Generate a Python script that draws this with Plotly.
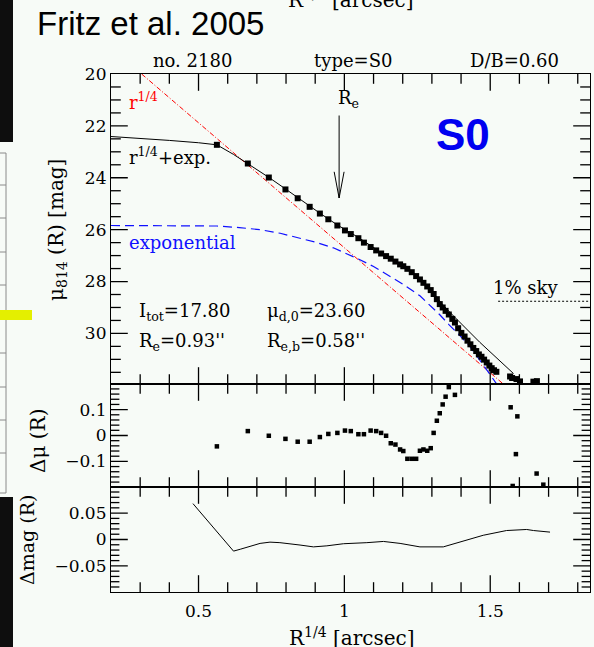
import plotly.graph_objects as go
from plotly.subplots import make_subplots

# ---------------- data ----------------
prof_x = [0.563, 0.669, 0.741, 0.798, 0.840, 0.881, 0.916, 0.945, 0.976, 1.002,
          1.022, 1.048, 1.067, 1.090, 1.109, 1.126, 1.143, 1.159, 1.175, 1.191,
          1.202, 1.216, 1.231, 1.246, 1.259, 1.271, 1.284, 1.296, 1.306, 1.317,
          1.327, 1.337, 1.347, 1.358, 1.370, 1.379, 1.390, 1.401, 1.412, 1.422,
          1.432, 1.442, 1.452, 1.461, 1.470, 1.479, 1.488, 1.497, 1.505, 1.513,
          1.521, 1.568, 1.575, 1.590, 1.602, 1.648, 1.660]
prof_mu = [22.73, 23.45, 23.99, 24.45, 24.79, 25.12, 25.38, 25.60, 25.84, 26.03,
           26.17, 26.33, 26.50, 26.67, 26.80, 26.92, 27.02, 27.12, 27.23, 27.34,
           27.41, 27.51, 27.64, 27.79, 27.92, 28.05, 28.19, 28.33, 28.48, 28.68,
           28.87, 29.00, 29.13, 29.27, 29.44, 29.58, 29.80, 29.98, 30.12, 30.28,
           30.42, 30.56, 30.68, 30.81, 30.90, 31.01, 31.12, 31.24, 31.34, 31.42,
           31.48, 31.66, 31.72, 31.76, 31.85, 31.86, 31.84]

fit_x = [0.200, 0.300, 0.400, 0.500, 0.563, 0.620, 0.669, 0.743, 0.798, 0.844,
         0.914, 0.976, 1.048, 1.128, 1.219, 1.259, 1.300, 1.330, 1.362, 1.464, 1.580]
fit_mu = [22.41, 22.48, 22.56, 22.65, 22.73, 23.10, 23.45, 24.00, 24.43, 24.80,
          25.35, 25.82, 26.30, 26.90, 27.50, 27.88, 28.35, 28.80, 29.19, 30.34, 31.55]

bulge_x = [0.305, 1.550]
bulge_mu = [20.0, 32.0]

disk_x = [0.200, 0.400, 0.563, 0.640, 0.711, 0.780, 0.848, 0.900, 0.962, 1.000,
          1.048, 1.100, 1.156, 1.200, 1.259, 1.300, 1.327, 1.360, 1.396, 1.430,
          1.453, 1.493, 1.525]
disk_mu = [25.84, 25.84, 25.86, 25.92, 26.00, 26.14, 26.32, 26.48, 26.70, 26.88,
           27.13, 27.42, 27.79, 28.10, 28.55, 28.98, 29.28, 29.68, 30.08, 30.50,
           30.85, 31.48, 32.00]

sky_x = [1.527, 1.840]
sky_mu = [28.76, 28.76]

arrow_x = [0.982, 0.982]
arrow_mu = [21.60, 24.78]
arrowhead_x = [0.965, 0.982, 0.999]
arrowhead_mu = [23.77, 24.78, 23.77]

res_x = [0.563, 0.669, 0.741, 0.798, 0.840, 0.881, 0.916, 0.945, 0.976, 1.002,
         1.022, 1.048, 1.067, 1.090, 1.109, 1.126, 1.143, 1.159, 1.175, 1.191,
         1.202, 1.216, 1.231, 1.246, 1.259, 1.271, 1.284, 1.296, 1.306, 1.317,
         1.327, 1.337, 1.347, 1.358, 1.379, 1.570, 1.593, 1.588, 1.659, 1.577, 1.682]
res_dmu = [-0.042, 0.017, -0.001, -0.013, -0.024, -0.024, -0.006, 0.006, 0.010, 0.019,
           0.017, 0.005, 0.005, 0.019, 0.017, 0.010, -0.001, -0.030, -0.035, -0.054,
           -0.060, -0.090, -0.090, -0.090, -0.059, -0.054, -0.059, -0.049, 0.010, 0.057,
           0.086, 0.120, 0.150, 0.187, 0.157, 0.109, 0.074, -0.072, -0.147, -0.195, -0.190]

dmag_x = [0.481, 0.620, 0.643, 0.711, 0.745, 0.779, 0.848, 0.894, 0.940, 0.997,
          1.077, 1.134, 1.191, 1.259, 1.339, 1.419, 1.476, 1.556, 1.625, 1.648, 1.705]
dmag_v = [0.068, -0.022, -0.0185, -0.0074, -0.005, -0.006, -0.0105, -0.014, -0.012, -0.008,
          -0.006, -0.0037, -0.0074, -0.014, -0.014, -0.002, 0.008, 0.017, 0.019, 0.017, 0.014]

# axis ranges and tick positions
x_range = [0.2, 1.842]
y1_range = [31.95, 20]
y2_range = [-0.199, 0.199]
y3_range = [-0.0995, 0.0995]
x_major = [0.5, 1.0, 1.5]
x_minor = [0.3, 0.4, 0.6, 0.7, 0.8, 0.9, 1.1, 1.2, 1.3, 1.4, 1.6, 1.7, 1.8]
y1_major = [22, 24, 26, 28, 30]
y1_minor = [20.5, 21, 21.5, 22.5, 23, 23.5, 24.5, 25, 25.5, 26.5, 27, 27.5,
            28.5, 29, 29.5, 30.5, 31, 31.5]
y2_major = [-0.1, 0.0, 0.1]
y2_minor = [-0.18, -0.16, -0.14, -0.12, -0.08, -0.06, -0.04, -0.02,
            0.02, 0.04, 0.06, 0.08, 0.12, 0.14, 0.16, 0.18]
y3_major = [-0.05, 0.0, 0.05]
y3_minor = [-0.09, -0.08, -0.07, -0.06, -0.04, -0.03, -0.02, -0.01,
            0.01, 0.02, 0.03, 0.04, 0.06, 0.07, 0.08, 0.09]

# ---------------- geometry helpers ----------------
W, H = 594, 647
L, R, T, B = 111, 590, 74, 592
PW, PH = R - L, B - T


def px(x):
    return (x - L) / PW


def py(y):
    return (B - y) / PH


BG = "#f7fbf7"
SERIF = "DejaVu Serif"

h1, h2, h3 = 384 - T, 487 - 384, B - 487
fig = make_subplots(rows=3, cols=1, shared_xaxes=True, vertical_spacing=0,
                    row_heights=[h1, h2, h3])

fig.add_trace(go.Scatter(x=bulge_x, y=bulge_mu, mode="lines",
                         line=dict(color="#ff0000", width=1, dash="5px,2px,1px,2px")), row=1, col=1)
fig.add_trace(go.Scatter(x=disk_x, y=disk_mu, mode="lines",
                         line=dict(color="#1010ff", width=1.2, dash="9px,5px")), row=1, col=1)
fig.add_trace(go.Scatter(x=fit_x, y=fit_mu, mode="lines",
                         line=dict(color="black", width=1)), row=1, col=1)
fig.add_trace(go.Scatter(x=prof_x, y=prof_mu, mode="markers",
                         marker=dict(symbol="square", size=6, color="black", line=dict(width=0))),
              row=1, col=1)
fig.add_trace(go.Scatter(x=sky_x, y=sky_mu, mode="lines",
                         line=dict(color="black", width=1, dash="2px,2px")), row=1, col=1)
fig.add_trace(go.Scatter(x=arrow_x, y=arrow_mu, mode="lines",
                         line=dict(color="black", width=1)), row=1, col=1)
fig.add_trace(go.Scatter(x=arrowhead_x, y=arrowhead_mu, mode="lines",
                         line=dict(color="black", width=1)), row=1, col=1)
fig.add_trace(go.Scatter(x=res_x, y=res_dmu, mode="markers",
                         marker=dict(symbol="square", size=4.5, color="black", line=dict(width=0))),
              row=2, col=1)
fig.add_trace(go.Scatter(x=dmag_x, y=dmag_v, mode="lines",
                         line=dict(color="black", width=1)), row=3, col=1)


# tick marks: line markers centred on the frame, clipped to the panel so only
# the inner half is visible
def tick_trace(xs, ys, symbol, length, row):
    fig.add_trace(go.Scatter(x=xs, y=ys, mode="markers", cliponaxis=True, hoverinfo="skip",
                             marker=dict(symbol=symbol, size=2 * length, color="black",
                                         line=dict(color="black", width=1.3))),
                  row=row, col=1)


panels = [(1, y1_range, y1_major, y1_minor, 7),
          (2, y2_range, y2_major, y2_minor, 6),
          (3, y3_range, y3_major, y3_minor, 6)]
for row, yr, ymaj, ymin, ml in panels:
    for yedge in yr:
        tick_trace(x_major, [yedge] * len(x_major), "line-ns-open", 12, row)
        tick_trace(x_minor, [yedge] * len(x_minor), "line-ns-open", 7, row)
    for xedge in x_range:
        tick_trace([xedge] * len(ymaj), ymaj, "line-ew-open", 12, row)
        tick_trace([xedge] * len(ymin), ymin, "line-ew-open", ml, row)

fig.update_xaxes(showline=True, linecolor="black", linewidth=1.2, mirror=True,
                 ticks="", showgrid=False, zeroline=False, range=x_range,
                 tickmode="array", tickvals=x_major, ticktext=["0.5", "1", "1.5"])
fig.update_xaxes(ticklabelstandoff=3, row=3, col=1)
fig.update_yaxes(showline=True, linecolor="black", linewidth=1.2, mirror=True,
                 ticks="", showgrid=False, zeroline=False)
fig.update_yaxes(range=y1_range, tickmode="array", tickvals=[20] + y1_major, row=1, col=1)
fig.update_yaxes(range=y2_range, tickmode="array", tickvals=y2_major,
                 ticktext=["\u22120.1", "0", "0.1"], row=2, col=1)
fig.update_yaxes(range=y3_range, tickmode="array", tickvals=y3_major,
                 ticktext=["\u22120.05", "0", "0.05"], row=3, col=1)

fig.update_layout(
    width=W, height=H,
    margin=dict(l=L, r=W - R, t=T, b=H - B),
    paper_bgcolor=BG, plot_bgcolor=BG,
    showlegend=False,
    font=dict(family=SERIF, size=17, color="black"),
)

ann = []


def text(x, y, s, size=18, color="black", xanchor="center", family=SERIF, angle=0):
    ann.append(dict(x=px(x), y=py(y), xref="paper", yref="paper", text=s, showarrow=False,
                    xanchor=xanchor, yanchor="middle", textangle=angle,
                    font=dict(size=size, color=color, family=family)))


text(35, 23.5, "Fritz et al. 2005", size=33, xanchor="left", family="Liberation Sans")
text(351, -1, "R<sup>1/4</sup> [arcsec]", size=20)
text(192, 60.5, "no. 2180")
text(353, 60.5, "type=S0")
text(514, 60.5, "D/B=0.60")
text(463, 134.5, "<b>S0</b>", size=44, color="#0000f0", family="Liberation Sans")
text(127, 101, "r<sup>1/4</sup>", color="#ff0000", xanchor="left")
text(127, 156, "r<sup>1/4</sup>+exp.", xanchor="left")
text(127, 242, "exponential", color="#1010ff", xanchor="left")
text(348, 99, "R<sub>e</sub>")
text(137, 312, "I<sub>tot</sub>=17.80", xanchor="left")
text(265, 312, "μ<sub>d,0</sub>=23.60", xanchor="left")
text(137, 342, "R<sub>e</sub>=0.93''", xanchor="left")
text(265, 342, "R<sub>e,b</sub>=0.58''", xanchor="left")
text(525, 287, "1% sky")
text(352, 637, "R<sup>1/4</sup> [arcsec]", size=20)
text(57, 230, "μ<sub>814</sub> (R) [mag]", size=20, angle=-90)
text(38, 441, "Δμ (R)", size=20, angle=-90)
text(27, 540, "Δmag (R)", size=19, angle=-90)
fig.update_layout(annotations=ann)

shapes = []


def rect(x0, y0, x1, y1, color):
    shapes.append(dict(type="rect", xref="paper", yref="paper", x0=px(x0), x1=px(x1),
                       y0=py(y1), y1=py(y0), fillcolor=color, opacity=1,
                       line=dict(width=0), layer="above"))


def seg(x0, y0, x1, y1, color="#8a8a8a", w=1):
    shapes.append(dict(type="line", xref="paper", yref="paper", x0=px(x0), x1=px(x1),
                       y0=py(y0), y1=py(y1), opacity=1, line=dict(color=color, width=w),
                       layer="above"))


rect(0, 0, 13, 142, "#0e0e0e")
rect(0, 497, 13, 647, "#0e0e0e")
seg(6, 153, 6, 493)
for yy in [153, 185, 218, 252, 285, 353, 387, 420, 453, 493]:
    seg(0, yy, 6, yy)
rect(0, 310, 32, 320, "#e4ef00")
fig.update_layout(shapes=shapes)

fig.write_html("out.html")
